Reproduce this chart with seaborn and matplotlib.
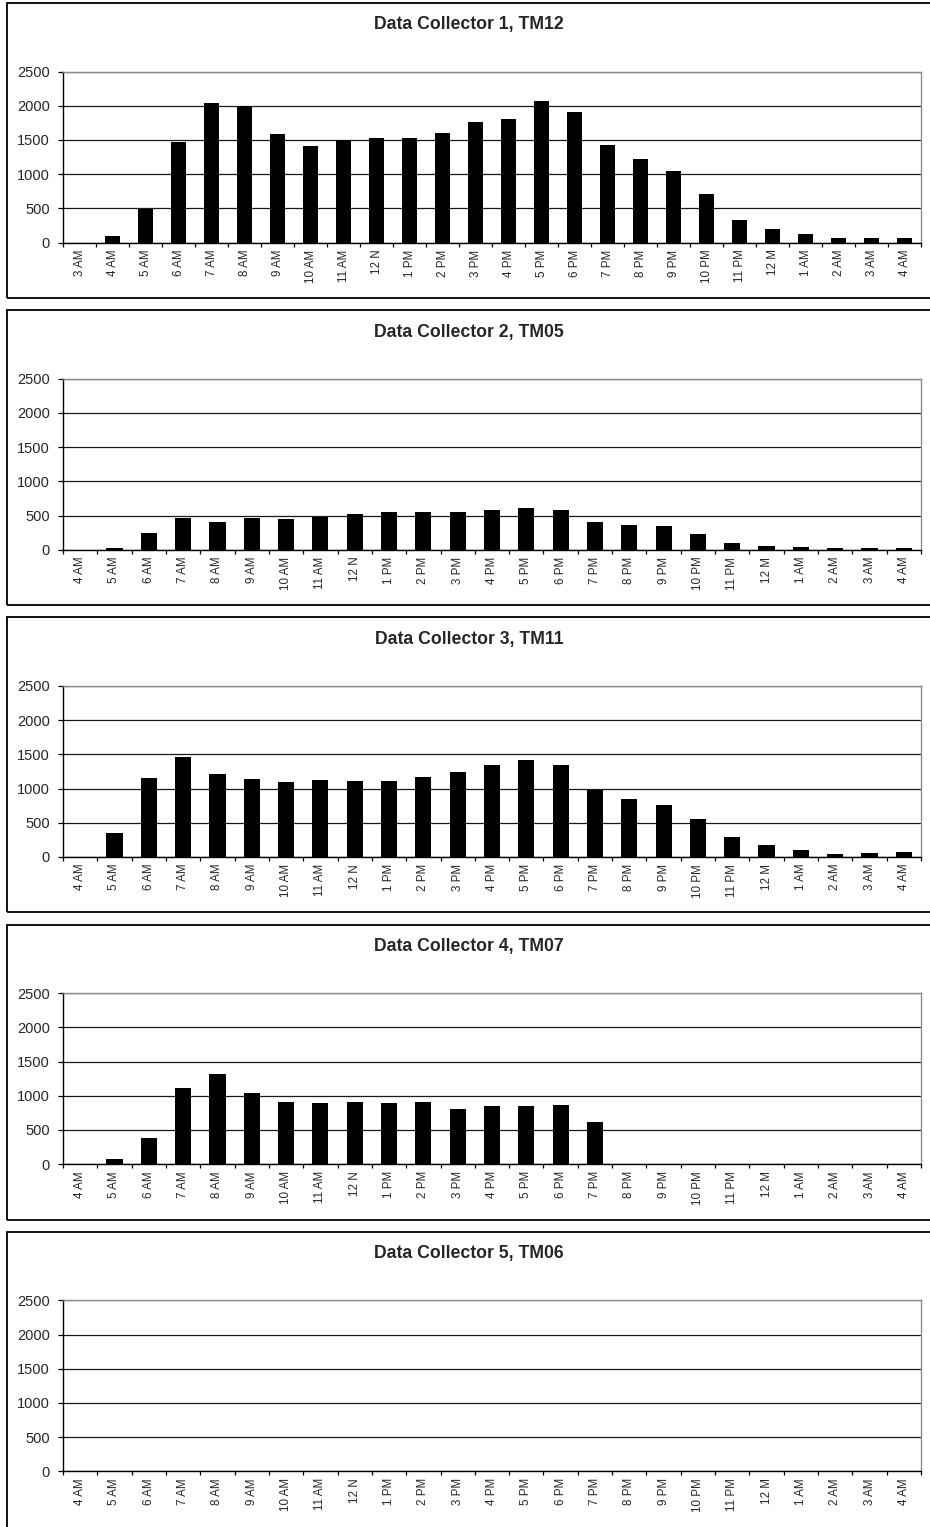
import numpy as np
import pandas as pd
import matplotlib.pyplot as plt
import seaborn as sns
from matplotlib.patches import Rectangle
from matplotlib.ticker import FixedLocator

sns.set_theme(style="white")
plt.rcParams["font.family"] = ["Liberation Sans", "DejaVu Sans"]

# ── Data (hourly counts) ─────────────────────────────────────────────────────
hours_tm12 = ["3 AM", "4 AM", "5 AM", "6 AM", "7 AM", "8 AM", "9 AM", "10 AM",
              "11 AM", "12 N", "1 PM", "2 PM", "3 PM", "4 PM", "5 PM", "6 PM",
              "7 PM", "8 PM", "9 PM", "10 PM", "11 PM", "12 M", "1 AM", "2 AM",
              "3 AM", "4 AM"]
hours = ["4 AM", "5 AM", "6 AM", "7 AM", "8 AM", "9 AM", "10 AM", "11 AM",
         "12 N", "1 PM", "2 PM", "3 PM", "4 PM", "5 PM", "6 PM", "7 PM", "8 PM",
         "9 PM", "10 PM", "11 PM", "12 M", "1 AM", "2 AM", "3 AM", "4 AM"]

tm12 = [0, 90, 490, 1470, 2045, 2000, 1580, 1405, 1500, 1535, 1535, 1600, 1760,
        1800, 2065, 1910, 1420, 1220, 1040, 715, 335, 200, 120, 70, 70, 70]
tm05 = [0, 20, 250, 465, 400, 465, 445, 485, 515, 550, 550, 550, 575, 610, 575,
        400, 365, 345, 235, 105, 55, 35, 20, 20, 20]
tm11 = [0, 355, 1155, 1455, 1210, 1140, 1095, 1125, 1105, 1105, 1175, 1240,
        1340, 1420, 1340, 980, 850, 765, 550, 285, 170, 95, 40, 55, 75]
tm07 = [0, 70, 385, 1110, 1320, 1045, 910, 895, 910, 895, 910, 800, 845, 845,
        860, 615, 0, 0, 0, 0, 0, 0, 0, 0, 0]
tm06 = [0] * 25

titles = ["Data Collector 1, TM12", "Data Collector 2, TM05",
          "Data Collector 3, TM11", "Data Collector 4, TM07",
          "Data Collector 5, TM06"]
panels = [(titles[0], hours_tm12, tm12),
          (titles[1], hours, tm05),
          (titles[2], hours, tm11),
          (titles[3], hours, tm07),
          (titles[4], hours, tm06)]

W, H = 930, 1527
fig = plt.figure(figsize=(W / 100, H / 100), dpi=100)

for i, (title, labels, values) in enumerate(panels):
    box_top = 3 + 307.2 * i
    plot_top = box_top + 68.5
    box_h = 295 if i < len(panels) - 1 else 330  # last frame runs off the page

    # outer chart frame
    fig.add_artist(Rectangle((7 / W, 1 - (box_top + box_h) / H), 940 / W, box_h / H,
                             transform=fig.transFigure, fill=False,
                             edgecolor="black", linewidth=1.3))
    fig.text(469 / W, 1 - (box_top + 22) / H, title, ha="center", va="center",
             fontsize=12.7, fontweight="bold")

    ax = fig.add_axes([63 / W, 1 - (plot_top + 171) / H, 858 / W, 171 / H])
    df = pd.DataFrame({"slot": range(len(values)), "count": values})
    sns.barplot(data=df, x="slot", y="count", color="black", saturation=1,
                width=0.47, linewidth=0, ax=ax)

    n = len(values)
    ax.set_xlim(-0.5, n - 0.5)
    ax.set_ylim(0, 2500)
    ax.set_yticks(range(0, 2501, 500))
    ax.set_xticks(range(n))
    ax.set_xticklabels(labels, rotation=90, fontsize=8.4)
    ax.xaxis.set_minor_locator(FixedLocator(np.arange(-0.5, n, 1)))
    ax.tick_params(axis="x", which="major", length=0, pad=5)
    ax.tick_params(axis="x", which="minor", bottom=True, length=3,
                   width=0.9, color="black", direction="out")
    ax.tick_params(axis="y", left=True, length=3.5, width=0.9, color="black",
                   labelsize=10.5, pad=6)
    ax.set_xlabel("")
    ax.set_ylabel("")

    ax.yaxis.grid(True, color="#1a1a1a", linewidth=0.9)
    ax.set_axisbelow(True)
    for side in ["left", "bottom"]:
        ax.spines[side].set_color("black")
        ax.spines[side].set_linewidth(1.0)
    for side in ["top", "right"]:
        ax.spines[side].set_color("#8c8c8c")
        ax.spines[side].set_linewidth(1.0)

fig.savefig("out.png", dpi=100)
plt.close()
